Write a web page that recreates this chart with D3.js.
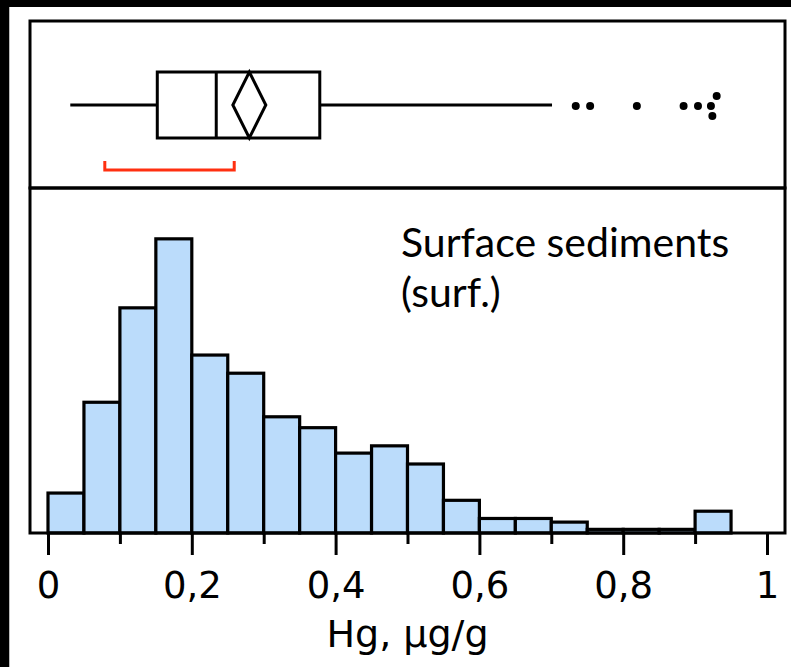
<!DOCTYPE html>
<html>
<head>
<meta charset="utf-8">
<script src="https://cdn.jsdelivr.net/npm/d3@7"></script>
<style>
  html, body { margin: 0; padding: 0; background: #fff; }
  svg { display: block; }
</style>
</head>
<body>
<svg id="chart" width="791" height="667"></svg>
<script>
// ---- data ----
const binStarts = [0,0.05,0.10,0.15,0.20,0.25,0.30,0.35,0.40,0.45,0.50,0.55,0.60,0.65,0.70,0.75,0.80,0.85,0.90];
const binWidth = 0.05;
const counts = [11,36,62,81,49,44,32,29,22,24,19,9,4,4,3,1,1,1,6];
const majorTicks = [0,0.2,0.4,0.6,0.8,1];
const majorTickLabels = ["0","0,2","0,4","0,6","0,8","1"];
const minorTicks = [0.1,0.3,0.5,0.7,0.9];
const boxStats = {whiskerLow:0.031, q1:0.152, median:0.234, mean:0.280, q3:0.378, whiskerHigh:0.701};
const outliers = [0.734,0.754,0.819,0.884,0.904,0.922,0.930,0.924];
const outlierStack = [0,0,0,0,0,0,-1,1];
const shortestHalf = [0.079, 0.259];
const xLabel = "Hg, µg/g";
const noteLines = ["Surface sediments", "(surf.)"];

// ---- layout ----
const svg = d3.select("#chart");
const W = 791, H = 667;
const frameL = 30, frameR = 785, topY = 21, midY = 188, baseY = 533;

const x = d3.scaleLinear().domain([0,1]).range([48, 767]);
const y = d3.scaleLinear().domain([0,95]).range([baseY, midY]);

// black edges of the screenshot
svg.append("rect").attr("x",0).attr("y",0).attr("width",W).attr("height",7).attr("fill","#000");
svg.append("rect").attr("x",0).attr("y",0).attr("width",9).attr("height",H).attr("fill","#000");
svg.append("rect").attr("x",9).attr("y",7).attr("width",1).attr("height",H-7).attr("fill","#bbb");

// histogram bars
svg.append("g").selectAll("rect").data(counts).join("rect")
  .attr("x", (d,i) => x(binStarts[i]))
  .attr("width", (d,i) => x(binStarts[i]+binWidth) - x(binStarts[i]))
  .attr("y", d => y(d))
  .attr("height", d => y(0) - y(d))
  .attr("fill", "#bbdcfb")
  .attr("stroke", "#000")
  .attr("stroke-width", 3.2);

// frames
svg.append("rect").attr("x",frameL).attr("y",topY).attr("width",frameR-frameL).attr("height",midY-topY)
  .attr("fill","none").attr("stroke","#000").attr("stroke-width",3);
svg.append("rect").attr("x",frameL).attr("y",midY).attr("width",frameR-frameL).attr("height",baseY-midY)
  .attr("fill","none").attr("stroke","#000").attr("stroke-width",3);

// x axis
const axisG = svg.append("g").attr("transform", `translate(0,${baseY})`);
axisG.call(d3.axisBottom(x).tickValues(majorTicks).tickSize(22)
  .tickFormat((d,i) => majorTickLabels[i]));
axisG.select(".domain").remove();
axisG.selectAll(".tick line").attr("stroke","#000").attr("stroke-width",3);
axisG.selectAll(".tick text")
  .attr("font-family","'DejaVu Sans', sans-serif").attr("font-size",37)
  .attr("fill","#000").attr("y",39).attr("dy","0.71em");
const minorG = svg.append("g").attr("transform", `translate(0,${baseY})`);
minorG.call(d3.axisBottom(x).tickValues(minorTicks).tickSize(11).tickFormat(""));
minorG.select(".domain").remove();
minorG.selectAll(".tick line").attr("stroke","#000").attr("stroke-width",3);

svg.append("text").attr("x", x(0.5)).attr("y", 647).attr("text-anchor","middle")
  .attr("font-family","'DejaVu Sans', sans-serif").attr("font-size",38).attr("fill","#000")
  .text(xLabel);

// box plot
const cy = 105, bh = 33;
const bp = svg.append("g").attr("stroke","#000").attr("stroke-width",3).attr("fill","none");
bp.append("line").attr("x1",x(boxStats.whiskerLow)).attr("x2",x(boxStats.q1)).attr("y1",cy).attr("y2",cy);
bp.append("line").attr("x1",x(boxStats.q3)).attr("x2",x(boxStats.whiskerHigh)).attr("y1",cy).attr("y2",cy);
bp.append("rect").attr("x",x(boxStats.q1)).attr("y",cy-bh).attr("width",x(boxStats.q3)-x(boxStats.q1)).attr("height",2*bh);
bp.append("line").attr("x1",x(boxStats.median)).attr("x2",x(boxStats.median)).attr("y1",cy-bh).attr("y2",cy+bh);
const mx = x(boxStats.mean), dw = 16.5;
bp.append("path").attr("d", `M${mx},${cy-bh}L${mx+dw},${cy}L${mx},${cy+bh}L${mx-dw},${cy}Z`);

svg.append("g").selectAll("circle").data(outliers).join("circle")
  .attr("cx", d => x(d)).attr("cy", (d,i) => cy + 1 + outlierStack[i]*10)
  .attr("r", 4).attr("fill","#000");

// shortest half bracket
svg.append("path")
  .attr("d", `M${x(shortestHalf[0])},161V170H${x(shortestHalf[1])}V161`)
  .attr("fill","none").attr("stroke","#ff3010").attr("stroke-width",3);

// annotation
const note = svg.append("text").attr("font-family","Lato, sans-serif").attr("font-size",41).attr("fill","#000");
noteLines.forEach((t,i) => note.append("tspan").attr("x",401).attr("y",257 + i*50).text(t));
</script>
</body>
</html>
